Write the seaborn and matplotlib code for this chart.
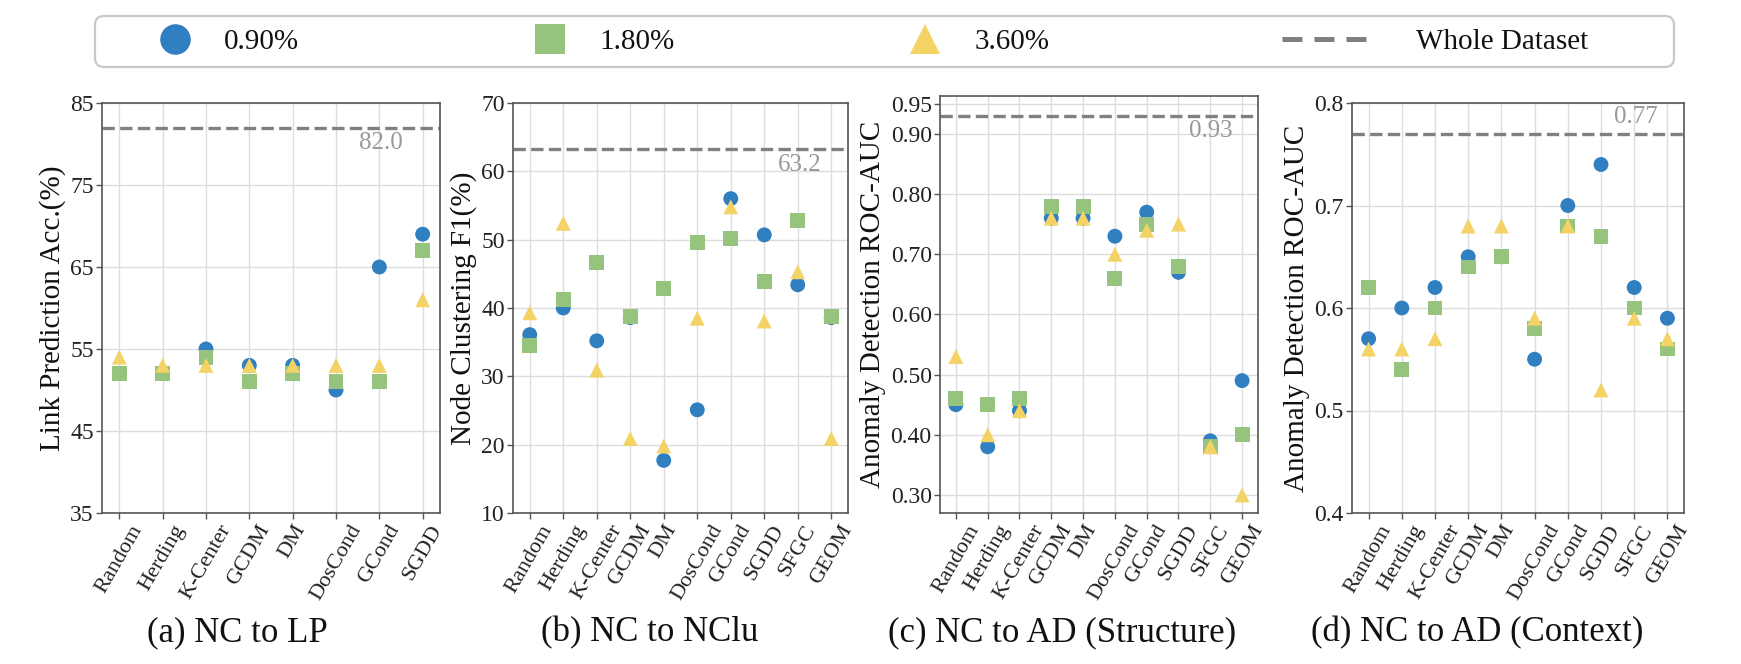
import matplotlib
matplotlib.use("Agg")
import matplotlib.pyplot as plt
import seaborn as sns
import pandas as pd
from matplotlib.lines import Line2D
from matplotlib.patches import FancyBboxPatch
from matplotlib.transforms import IdentityTransform

# ---------------- data ----------------
ratios = ["0.90%", "1.80%", "3.60%"]

methods_lp = ["Random", "Herding", "K-Center", "GCDM", "DM", "DosCond", "GCond", "SGDD"]
methods = ["Random", "Herding", "K-Center", "GCDM", "DM", "DosCond", "GCond", "SGDD", "SFGC", "GEOM"]

lp_090 = [52, 52, 55, 53, 53, 50, 65, 69]
lp_180 = [52, 52, 54, 51, 52, 51, 51, 67]
lp_360 = [54, 53, 53, 53, 53, 53, 53, 61]
lp_whole = 82.0

nclu_090 = [36.1, 40.0, 35.2, 38.6, 17.7, 25.1, 56.0, 50.7, 43.4, 38.6]
nclu_180 = [34.5, 41.2, 46.6, 38.7, 42.9, 49.6, 50.2, 43.9, 52.8, 38.7]
nclu_360 = [39.3, 52.4, 30.9, 20.9, 19.8, 38.5, 54.8, 38.1, 45.3, 20.9]
nclu_whole = 63.2

ads_090 = [0.45, 0.38, 0.44, 0.76, 0.76, 0.73, 0.77, 0.67, 0.39, 0.49]
ads_180 = [0.46, 0.45, 0.46, 0.78, 0.78, 0.66, 0.75, 0.68, 0.38, 0.40]
ads_360 = [0.53, 0.40, 0.44, 0.76, 0.76, 0.70, 0.74, 0.75, 0.38, 0.30]
ads_whole = 0.93

adc_090 = [0.57, 0.60, 0.62, 0.65, 0.65, 0.55, 0.70, 0.74, 0.62, 0.59]
adc_180 = [0.62, 0.54, 0.60, 0.64, 0.65, 0.58, 0.68, 0.67, 0.60, 0.56]
adc_360 = [0.56, 0.56, 0.57, 0.68, 0.68, 0.59, 0.68, 0.52, 0.59, 0.57]
adc_whole = 0.77

captions = ["(a) NC to LP", "(b) NC to NClu", "(c) NC to AD (Structure)", "(d) NC to AD (Context)"]
ylabels = ["Link Prediction Acc.(%)", "Node Clustering F1(%)",
           "Anomaly Detection ROC-AUC", "Anomaly Detection ROC-AUC"]
whole_label = "Whole Dataset"

# ---------------- style ----------------
sns.set_style("whitegrid")
plt.rcParams["font.family"] = ["Liberation Serif", "DejaVu Serif"]
plt.rcParams["mathtext.fontset"] = "stix"

colors = {"0.90%": "#2f7fc1", "1.80%": "#96c37d", "3.60%": "#f3d266"}
markers = {"0.90%": "o", "1.80%": "s", "3.60%": "^"}
line_gray = "#808080"
spine_col = "#555555"

W, H = 1741, 664
fig = plt.figure(figsize=(W / 100, H / 100), dpi=100)

def rect(l, r, t, b):
    return [l / W, (H - b) / H, (r - l) / W, (b - t) / H]

panels = [
    dict(rect=rect(102, 440, 103, 513), cats=methods_lp, vals=[lp_090, lp_180, lp_360],
         whole=lp_whole, wtxt="82.0", ylim=(35, 85), yticks=[35, 45, 55, 65, 75, 85],
         fmt="{:.0f}", xlim=(-0.4, 7.4), above=False, tx=0.89),
    dict(rect=rect(513, 848, 103, 513), cats=methods, vals=[nclu_090, nclu_180, nclu_360],
         whole=nclu_whole, wtxt="63.2", ylim=(10, 70), yticks=[10, 20, 30, 40, 50, 60, 70],
         fmt="{:.0f}", xlim=(-0.5, 9.5), above=False, tx=0.92),
    dict(rect=rect(940, 1258, 96, 513), cats=methods, vals=[ads_090, ads_180, ads_360],
         whole=ads_whole, wtxt="0.93", ylim=(0.27, 0.963),
         yticks=[0.30, 0.40, 0.50, 0.60, 0.70, 0.80, 0.90, 0.95],
         fmt="{:.2f}", xlim=(-0.5, 9.5), above=False, tx=0.92),
    dict(rect=rect(1352, 1684, 103, 513), cats=methods, vals=[adc_090, adc_180, adc_360],
         whole=adc_whole, wtxt="0.77", ylim=(0.4, 0.8), yticks=[0.4, 0.5, 0.6, 0.7, 0.8],
         fmt="{:.1f}", xlim=(-0.5, 9.5), above=True, tx=0.92),
]

for i, p in enumerate(panels):
    ax = fig.add_axes(p["rect"])
    rows = []
    for r, v in zip(ratios, p["vals"]):
        for m, val in zip(p["cats"], v):
            rows.append({"method": m, "value": val, "ratio": r})
    df = pd.DataFrame(rows)
    df["method"] = pd.Categorical(df["method"], categories=p["cats"], ordered=True)
    sns.scatterplot(data=df, x="method", y="value", hue="ratio", style="ratio",
                    palette=colors, markers=markers, hue_order=ratios, style_order=ratios,
                    s=115, linewidth=0, legend=False, ax=ax, zorder=3)
    ax.axhline(p["whole"], color=line_gray, linestyle="--", linewidth=2.4, zorder=2)
    ax.annotate(p["wtxt"], xy=(p["tx"], p["whole"]),
                xycoords=("axes fraction", "data"),
                xytext=(0, 4 if p["above"] else -3), textcoords="offset points",
                ha="right", va="bottom" if p["above"] else "top",
                fontsize=18, color="#999999")
    ax.set_xlim(*p["xlim"])
    ax.set_ylim(*p["ylim"])
    ax.set_yticks(p["yticks"])
    ax.set_yticklabels([p["fmt"].format(t) for t in p["yticks"]], fontsize=17, color="#222222")
    ax.set_xticks(range(len(p["cats"])))
    ax.set_xticklabels(p["cats"], rotation=60, ha="center", fontsize=16, color="#222222")
    ax.set_xlabel("")
    ax.set_ylabel(ylabels[i], fontsize=21, color="#111111", labelpad=3)
    ax.grid(True, color="#dddddd", linewidth=1.0, zorder=0)
    ax.set_axisbelow(True)
    for s in ax.spines.values():
        s.set_color(spine_col)
        s.set_linewidth(1.2)
    ax.tick_params(axis="both", which="major", bottom=True, left=True, length=4,
                   width=1, color=spine_col, pad=2)

# captions
cap_x = [237, 650, 1062, 1477]
for cx, c in zip(cap_x, captions):
    fig.text(cx / W, (H - 633) / H, c, ha="center", va="center", fontsize=25, color="#111111")

# ---------------- legend ----------------
# frame
frame = FancyBboxPatch((95, H - 67), 1674 - 95, 51,
                       boxstyle="round,pad=0,rounding_size=9",
                       transform=IdentityTransform(), facecolor="white",
                       edgecolor="#c8c8c8", linewidth=1.6, zorder=0)
fig.add_artist(frame)

lfs = 21
mk_handles = [
    Line2D([], [], marker=markers[r], linestyle="None", markersize=22,
           color=colors[r], markeredgewidth=0) for r in ratios
]
leg1 = fig.legend(mk_handles, ratios, loc="center left", ncol=3,
                  bbox_to_anchor=(146 / W, (H - 41.5) / H),
                  frameon=False, fontsize=lfs, handlelength=2.0, handletextpad=0.68,
                  columnspacing=7.6, borderpad=0, borderaxespad=0)
dash_handle = Line2D([], [], linestyle=(0, (4.0, 2.4)), linewidth=3.6, color=line_gray)
leg2 = fig.legend([dash_handle], [whole_label], loc="center left",
                  bbox_to_anchor=(1282 / W, (H - 41.5) / H),
                  frameon=False, fontsize=lfs, handlelength=2.88, handletextpad=1.71,
                  borderpad=0, borderaxespad=0)
for lg in (leg1, leg2):
    for t in lg.get_texts():
        t.set_color("#111111")

fig.savefig("out.png", dpi=100)
